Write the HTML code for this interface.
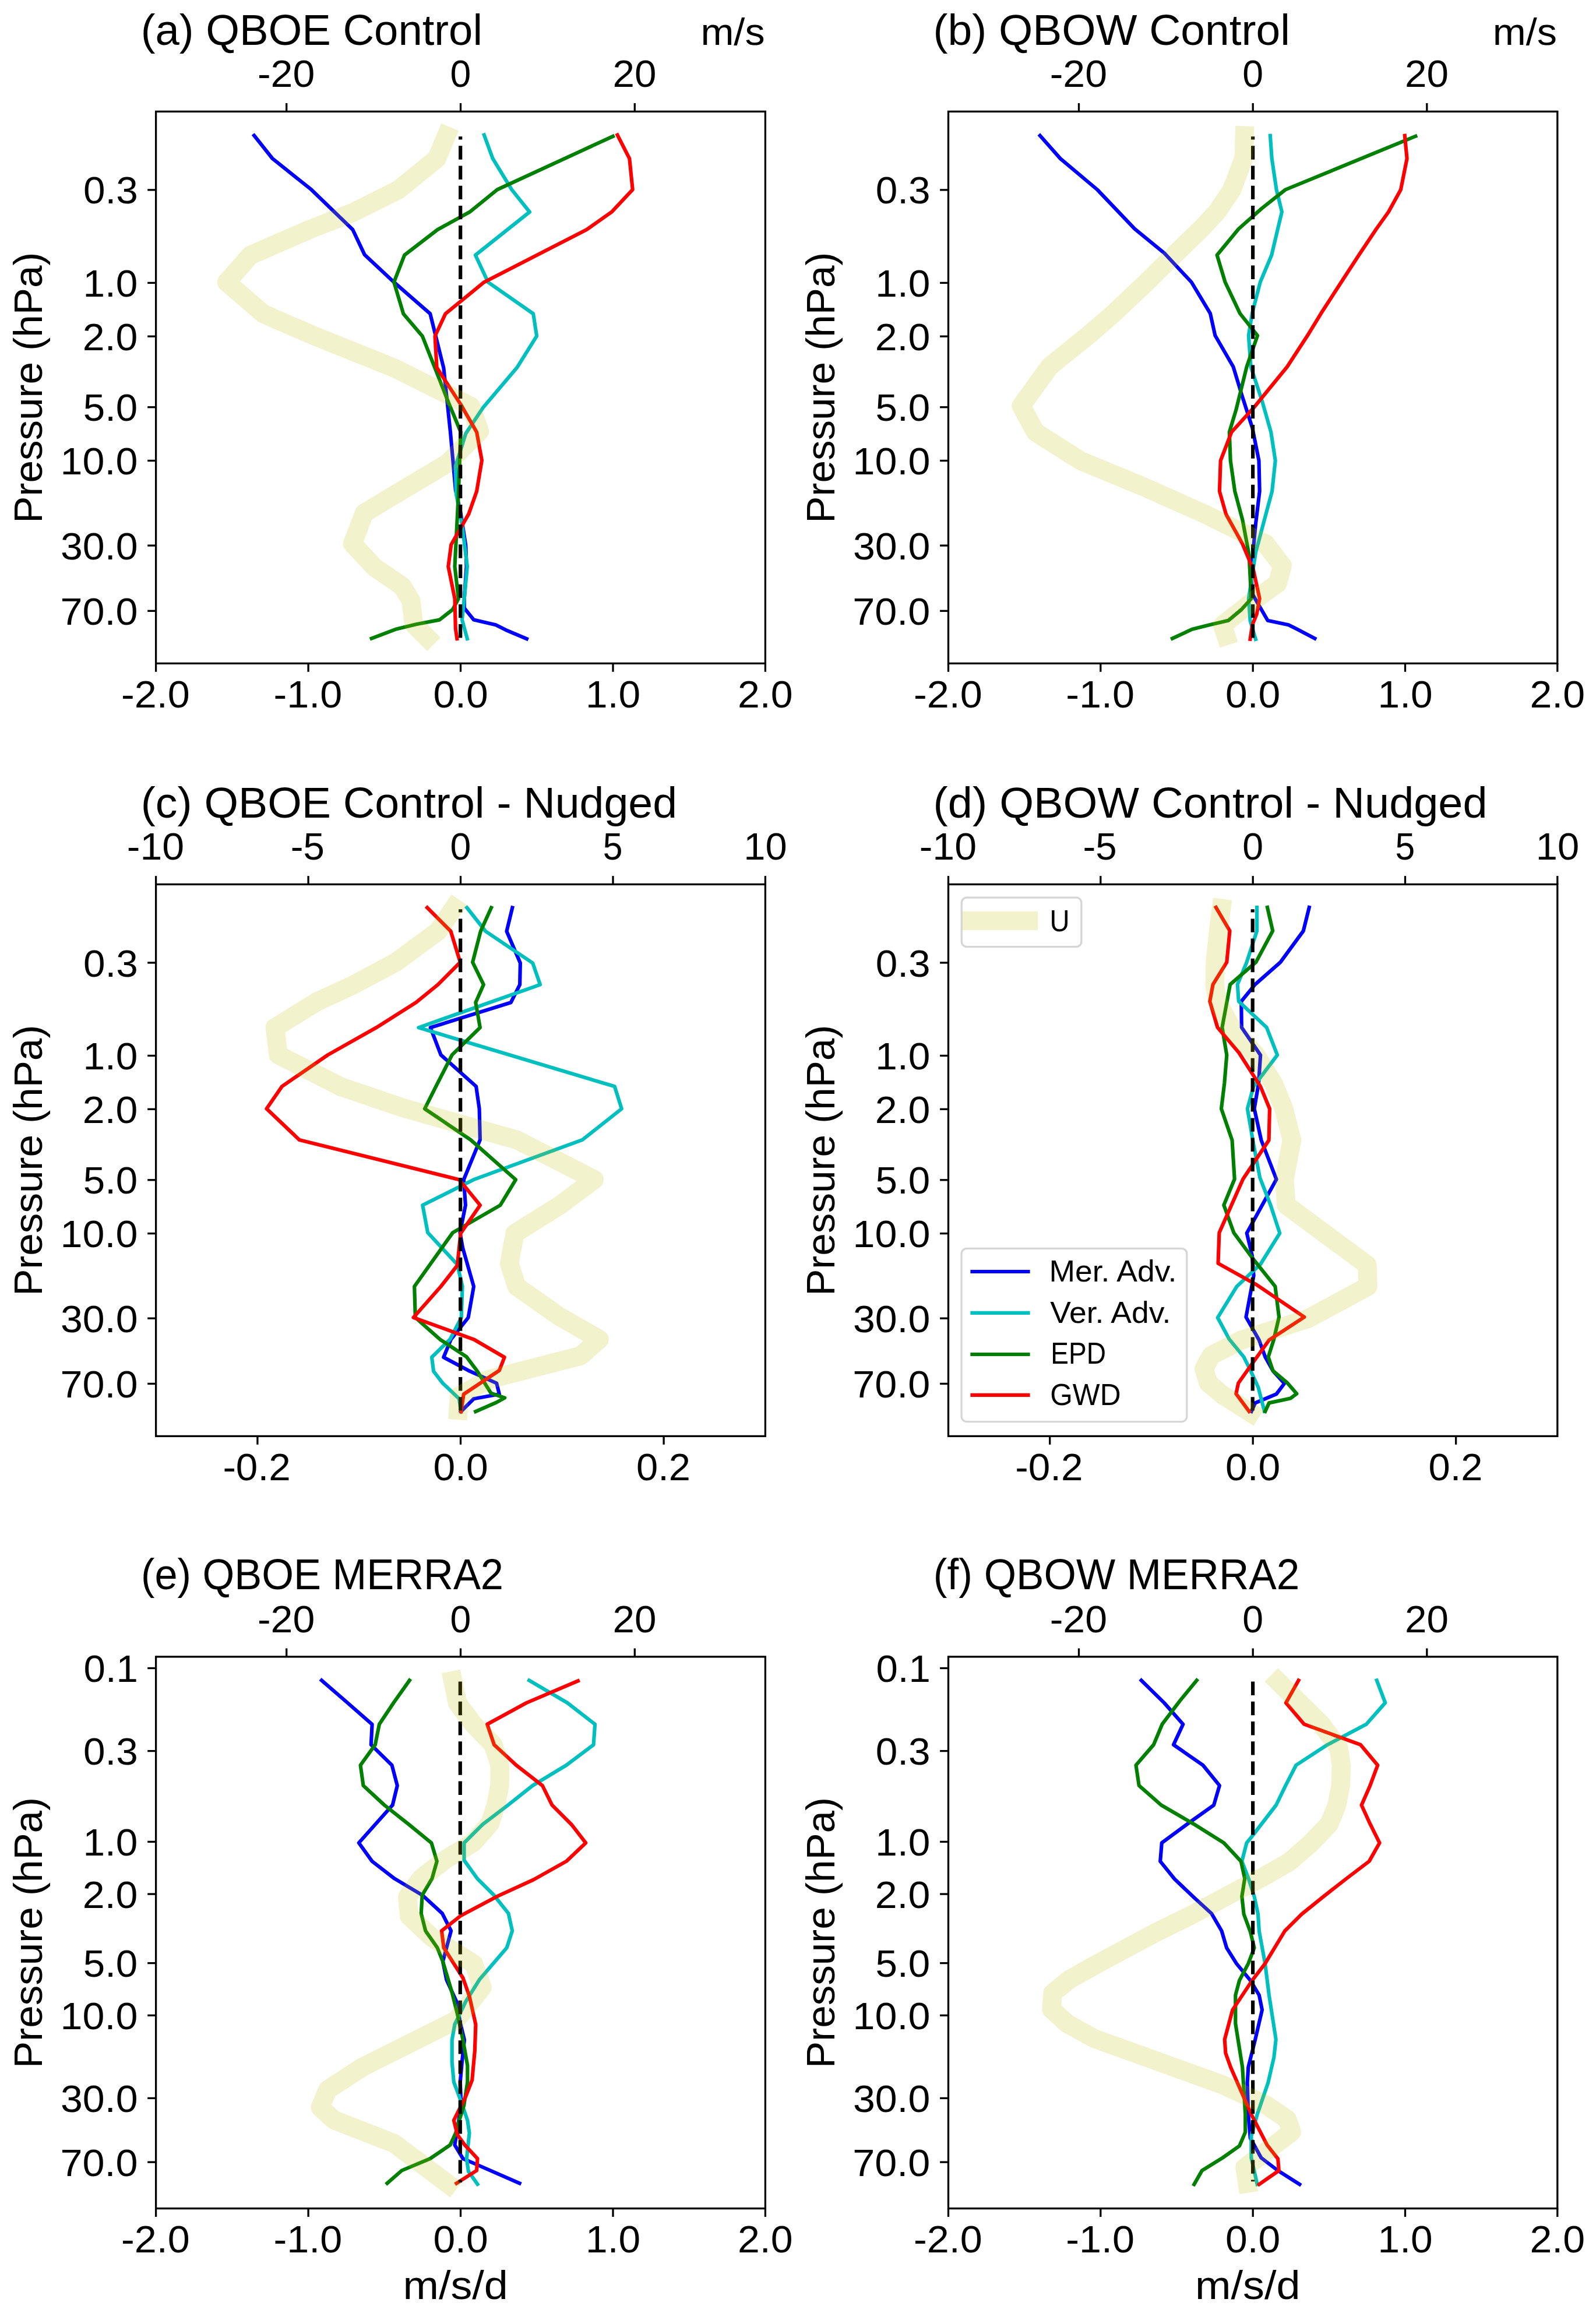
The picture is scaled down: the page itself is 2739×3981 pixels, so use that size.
<!DOCTYPE html>
<html><head><meta charset="utf-8"><style>
html,body{margin:0;padding:0;background:#fff;}
svg{display:block;}
text{font-family:"Liberation Sans",sans-serif;fill:#000;}
</style></head><body>
<svg width="2739" height="3981" viewBox="0 0 2739 3981">
<rect x="0" y="0" width="2739" height="3981" fill="#fff"/>
<text x="241.8" y="76.5" font-size="73.45" textLength="586.1" lengthAdjust="spacingAndGlyphs">(a) QBOE Control</text>
<text x="1202.4" y="76.5" font-size="64.84" textLength="110.2" lengthAdjust="spacingAndGlyphs">m/s</text>
<text transform="translate(72.4,664.9) rotate(-90)" x="-232.8" y="0" font-size="69.17" textLength="465.1" lengthAdjust="spacingAndGlyphs">Pressure (hPa)</text>
<line x1="267.6" y1="1138.4" x2="267.6" y2="1152.8" stroke="#000" stroke-width="3.3" stroke-linecap="butt"/>
<text x="208.1" y="1214.2" font-size="64.84" textLength="117.7" lengthAdjust="spacingAndGlyphs">-2.0</text>
<line x1="529.1" y1="1138.4" x2="529.1" y2="1152.8" stroke="#000" stroke-width="3.3" stroke-linecap="butt"/>
<text x="469.5" y="1214.2" font-size="64.84" textLength="117.7" lengthAdjust="spacingAndGlyphs">-1.0</text>
<line x1="790.5" y1="1138.4" x2="790.5" y2="1152.8" stroke="#000" stroke-width="3.3" stroke-linecap="butt"/>
<text x="743.4" y="1214.2" font-size="64.84" textLength="94.3" lengthAdjust="spacingAndGlyphs">0.0</text>
<line x1="1052.0" y1="1138.4" x2="1052.0" y2="1152.8" stroke="#000" stroke-width="3.3" stroke-linecap="butt"/>
<text x="1005.1" y="1214.2" font-size="64.84" textLength="94.0" lengthAdjust="spacingAndGlyphs">1.0</text>
<line x1="1313.4" y1="1138.4" x2="1313.4" y2="1152.8" stroke="#000" stroke-width="3.3" stroke-linecap="butt"/>
<text x="1266.0" y="1214.2" font-size="64.84" textLength="94.6" lengthAdjust="spacingAndGlyphs">2.0</text>
<line x1="491.7" y1="191.4" x2="491.7" y2="177.0" stroke="#000" stroke-width="3.3" stroke-linecap="butt"/>
<text x="441.9" y="149.0" font-size="64.84" textLength="98.4" lengthAdjust="spacingAndGlyphs">-20</text>
<line x1="790.5" y1="191.4" x2="790.5" y2="177.0" stroke="#000" stroke-width="3.3" stroke-linecap="butt"/>
<text x="772.6" y="149.0" font-size="64.84" textLength="35.8" lengthAdjust="spacingAndGlyphs">0</text>
<line x1="1089.3" y1="191.4" x2="1089.3" y2="177.0" stroke="#000" stroke-width="3.3" stroke-linecap="butt"/>
<text x="1051.6" y="149.0" font-size="64.84" textLength="75.0" lengthAdjust="spacingAndGlyphs">20</text>
<line x1="253.2" y1="325.9" x2="267.6" y2="325.9" stroke="#000" stroke-width="3.3" stroke-linecap="butt"/>
<text x="142.9" y="349.4" font-size="64.84" textLength="93.8" lengthAdjust="spacingAndGlyphs">0.3</text>
<line x1="253.2" y1="485.4" x2="267.6" y2="485.4" stroke="#000" stroke-width="3.3" stroke-linecap="butt"/>
<text x="142.4" y="508.9" font-size="64.84" textLength="94.0" lengthAdjust="spacingAndGlyphs">1.0</text>
<line x1="253.2" y1="577.2" x2="267.6" y2="577.2" stroke="#000" stroke-width="3.3" stroke-linecap="butt"/>
<text x="141.8" y="600.7" font-size="64.84" textLength="94.6" lengthAdjust="spacingAndGlyphs">2.0</text>
<line x1="253.2" y1="698.7" x2="267.6" y2="698.7" stroke="#000" stroke-width="3.3" stroke-linecap="butt"/>
<text x="142.7" y="722.2" font-size="64.84" textLength="93.6" lengthAdjust="spacingAndGlyphs">5.0</text>
<line x1="253.2" y1="790.5" x2="267.6" y2="790.5" stroke="#000" stroke-width="3.3" stroke-linecap="butt"/>
<text x="103.6" y="814.0" font-size="64.84" textLength="132.9" lengthAdjust="spacingAndGlyphs">10.0</text>
<line x1="253.2" y1="936.1" x2="267.6" y2="936.1" stroke="#000" stroke-width="3.3" stroke-linecap="butt"/>
<text x="104.0" y="959.6" font-size="64.84" textLength="132.5" lengthAdjust="spacingAndGlyphs">30.0</text>
<line x1="253.2" y1="1048.3" x2="267.6" y2="1048.3" stroke="#000" stroke-width="3.3" stroke-linecap="butt"/>
<text x="103.4" y="1071.8" font-size="64.84" textLength="133.1" lengthAdjust="spacingAndGlyphs">70.0</text>
<svg x="267.6" y="191.4" width="1045.8000000000002" height="947.0000000000001" viewBox="267.6 191.4 1045.8000000000002 947.0000000000001" overflow="hidden">
<polyline points="436.1,232.5 467.7,272.2 534.4,325.4 605.3,394.0 625.6,436.9 676.1,484.2 738.3,538.4 761.4,631.6 773.0,742.0 781.8,840.5 790.6,880.6 799.3,935.7 800.6,972.0 796.8,1027.0 796.8,1043.5 813.1,1063.6 850.7,1072.3 868.3,1081.1 903.9,1096.1" fill="none" stroke="#0000ff" stroke-width="6.2" stroke-linejoin="round" stroke-linecap="square" />
<polyline points="830.8,231.6 845.7,272.2 878.2,325.4 908.9,363.8 815.9,437.8 837.6,484.2 915.2,538.4 921.1,576.7 887.2,630.8 829.4,698.9 799.3,744.0 781.8,800.0 783.0,848.0 793.0,900.6 801.9,972.0 796.8,1027.0 793.0,1063.6 801.9,1096.0" fill="none" stroke="#00bfbf" stroke-width="6.2" stroke-linejoin="round" stroke-linecap="square" />
<polyline points="1051.9,233.9 853.4,325.4 806.0,363.8 751.0,394.0 694.1,437.8 676.1,484.2 692.3,538.4 724.8,576.7 770.5,692.6 790.6,741.0 786.8,848.0 780.5,972.0 786.8,1027.2 776.8,1046.0 754.2,1063.6 715.4,1071.0 679.0,1079.8 637.7,1095.6" fill="none" stroke="#008000" stroke-width="6.2" stroke-linejoin="round" stroke-linecap="square" />
<polyline points="1059.6,231.6 1080.3,272.2 1085.7,325.4 1049.6,363.8 1006.8,394.0 830.8,484.2 764.5,538.4 746.5,576.7 749.6,630.8 790.6,693.9 818.1,741.5 826.9,789.9 818.1,843.0 804.4,881.9 774.3,934.5 769.3,972.1 780.5,1027.2 781.8,1078.6 784.3,1096.0" fill="none" stroke="#ff0000" stroke-width="6.2" stroke-linejoin="round" stroke-linecap="square" />
<line x1="790.2" y1="1094.5" x2="790.2" y2="234.2" stroke="#000" stroke-width="6.2" stroke-dasharray="23.4 10.8"/>
<polyline points="766.0,233.0 749.6,272.2 684.2,325.4 607.5,363.8 530.8,394.0 429.8,438.0 389.0,484.2 451.9,538.4 540.0,576.7 675.2,630.8 808.0,697.0 823.0,740.0 768.0,795.0 679.0,848.0 625.0,880.6 605.0,933.0 642.7,973.3 690.3,1006.0 705.4,1031.0 710.0,1071.0 733.0,1094.0" fill="none" stroke="#bfbf00" stroke-width="32.5" stroke-linejoin="round" stroke-linecap="square" stroke-opacity="0.2"/>
</svg>
<rect x="267.6" y="191.4" width="1045.8000000000002" height="947.0000000000001" fill="none" stroke="#000" stroke-width="3.3"/>
<text x="1601.6" y="76.5" font-size="73.45" textLength="612.3" lengthAdjust="spacingAndGlyphs">(b) QBOW Control</text>
<text x="2561.8" y="76.5" font-size="64.84" textLength="110.2" lengthAdjust="spacingAndGlyphs">m/s</text>
<text transform="translate(1432.3,664.9) rotate(-90)" x="-232.8" y="0" font-size="69.17" textLength="465.1" lengthAdjust="spacingAndGlyphs">Pressure (hPa)</text>
<line x1="1627.5" y1="1138.4" x2="1627.5" y2="1152.8" stroke="#000" stroke-width="3.3" stroke-linecap="butt"/>
<text x="1568.0" y="1214.2" font-size="64.84" textLength="117.7" lengthAdjust="spacingAndGlyphs">-2.0</text>
<line x1="1888.8" y1="1138.4" x2="1888.8" y2="1152.8" stroke="#000" stroke-width="3.3" stroke-linecap="butt"/>
<text x="1829.3" y="1214.2" font-size="64.84" textLength="117.7" lengthAdjust="spacingAndGlyphs">-1.0</text>
<line x1="2150.2" y1="1138.4" x2="2150.2" y2="1152.8" stroke="#000" stroke-width="3.3" stroke-linecap="butt"/>
<text x="2103.0" y="1214.2" font-size="64.84" textLength="94.3" lengthAdjust="spacingAndGlyphs">0.0</text>
<line x1="2411.5" y1="1138.4" x2="2411.5" y2="1152.8" stroke="#000" stroke-width="3.3" stroke-linecap="butt"/>
<text x="2364.6" y="1214.2" font-size="64.84" textLength="94.0" lengthAdjust="spacingAndGlyphs">1.0</text>
<line x1="2672.8" y1="1138.4" x2="2672.8" y2="1152.8" stroke="#000" stroke-width="3.3" stroke-linecap="butt"/>
<text x="2625.4" y="1214.2" font-size="64.84" textLength="94.6" lengthAdjust="spacingAndGlyphs">2.0</text>
<line x1="1851.5" y1="191.4" x2="1851.5" y2="177.0" stroke="#000" stroke-width="3.3" stroke-linecap="butt"/>
<text x="1801.7" y="149.0" font-size="64.84" textLength="98.4" lengthAdjust="spacingAndGlyphs">-20</text>
<line x1="2150.2" y1="191.4" x2="2150.2" y2="177.0" stroke="#000" stroke-width="3.3" stroke-linecap="butt"/>
<text x="2132.3" y="149.0" font-size="64.84" textLength="35.8" lengthAdjust="spacingAndGlyphs">0</text>
<line x1="2448.8" y1="191.4" x2="2448.8" y2="177.0" stroke="#000" stroke-width="3.3" stroke-linecap="butt"/>
<text x="2411.1" y="149.0" font-size="64.84" textLength="75.0" lengthAdjust="spacingAndGlyphs">20</text>
<line x1="1613.1" y1="325.9" x2="1627.5" y2="325.9" stroke="#000" stroke-width="3.3" stroke-linecap="butt"/>
<text x="1502.8" y="349.4" font-size="64.84" textLength="93.8" lengthAdjust="spacingAndGlyphs">0.3</text>
<line x1="1613.1" y1="485.4" x2="1627.5" y2="485.4" stroke="#000" stroke-width="3.3" stroke-linecap="butt"/>
<text x="1502.3" y="508.9" font-size="64.84" textLength="94.0" lengthAdjust="spacingAndGlyphs">1.0</text>
<line x1="1613.1" y1="577.2" x2="1627.5" y2="577.2" stroke="#000" stroke-width="3.3" stroke-linecap="butt"/>
<text x="1501.7" y="600.7" font-size="64.84" textLength="94.6" lengthAdjust="spacingAndGlyphs">2.0</text>
<line x1="1613.1" y1="698.7" x2="1627.5" y2="698.7" stroke="#000" stroke-width="3.3" stroke-linecap="butt"/>
<text x="1502.6" y="722.2" font-size="64.84" textLength="93.6" lengthAdjust="spacingAndGlyphs">5.0</text>
<line x1="1613.1" y1="790.5" x2="1627.5" y2="790.5" stroke="#000" stroke-width="3.3" stroke-linecap="butt"/>
<text x="1463.5" y="814.0" font-size="64.84" textLength="132.9" lengthAdjust="spacingAndGlyphs">10.0</text>
<line x1="1613.1" y1="936.1" x2="1627.5" y2="936.1" stroke="#000" stroke-width="3.3" stroke-linecap="butt"/>
<text x="1463.9" y="959.6" font-size="64.84" textLength="132.5" lengthAdjust="spacingAndGlyphs">30.0</text>
<line x1="1613.1" y1="1048.3" x2="1627.5" y2="1048.3" stroke="#000" stroke-width="3.3" stroke-linecap="butt"/>
<text x="1463.3" y="1071.8" font-size="64.84" textLength="133.1" lengthAdjust="spacingAndGlyphs">70.0</text>
<svg x="1627.5" y="191.4" width="1045.3000000000002" height="947.0000000000001" viewBox="1627.5 191.4 1045.3000000000002 947.0000000000001" overflow="hidden">
<polyline points="1784.9,232.7 1819.7,272.1 1883.2,325.5 1947.2,392.7 1998.2,434.4 2044.6,484.0 2077.0,537.8 2085.4,575.8 2116.4,629.2 2132.3,681.4 2149.2,734.0 2160.5,790.4 2161.7,843.0 2154.9,899.4 2149.2,959.5 2147.4,1015.9 2175.6,1064.8 2211.3,1072.3 2226.3,1079.8 2256.4,1095.6" fill="none" stroke="#0000ff" stroke-width="6.2" stroke-linejoin="round" stroke-linecap="square" />
<polyline points="2179.9,232.7 2182.7,272.1 2190.6,325.5 2199.9,363.5 2192.9,392.7 2182.3,437.7 2162.8,484.0 2148.9,537.8 2142.8,575.8 2146.6,629.2 2166.2,688.9 2181.2,741.5 2188.7,790.4 2183.1,843.0 2169.9,891.9 2154.9,948.3 2142.9,1027.2 2145.5,1064.8 2154.9,1096.8" fill="none" stroke="#00bfbf" stroke-width="6.2" stroke-linejoin="round" stroke-linecap="square" />
<polyline points="2429.4,233.7 2205.9,325.5 2165.1,357.9 2125.7,392.7 2088.6,437.7 2102.5,484.0 2128.0,537.8 2158.1,575.8 2139.6,629.2 2121.1,703.9 2109.8,741.5 2111.7,790.4 2119.2,843.0 2132.3,891.9 2143.6,952.0 2147.4,1027.2 2130.5,1046.0 2107.9,1064.8 2075.9,1072.3 2045.9,1079.8 2012.0,1095.6" fill="none" stroke="#008000" stroke-width="6.2" stroke-linejoin="round" stroke-linecap="square" />
<polyline points="2410.8,232.7 2414.6,272.1 2403.9,325.5 2383.0,363.5 2362.1,392.7 2332.0,437.7 2301.9,484.0 2267.1,537.8 2243.9,575.8 2209.1,629.2 2151.1,700.2 2113.5,741.5 2094.7,790.4 2092.9,843.0 2104.1,882.5 2132.3,933.2 2151.1,978.3 2161.7,1027.2 2156.8,1053.5 2149.2,1072.3 2145.5,1096.8" fill="none" stroke="#ff0000" stroke-width="6.2" stroke-linejoin="round" stroke-linecap="square" />
<line x1="2150.1" y1="1094.5" x2="2150.1" y2="234.2" stroke="#000" stroke-width="6.2" stroke-dasharray="23.4 10.8"/>
<polyline points="2135.9,232.7 2135.0,269.8 2114.1,325.5 2088.6,363.5 2062.0,392.0 2015.0,437.7 1968.0,484.0 1911.0,538.0 1867.0,575.8 1801.1,629.2 1752.6,696.4 1777.1,741.5 1854.1,790.4 1963.2,835.5 2068.4,882.5 2171.8,933.2 2200.7,970.8 2192.5,1000.9 2151.1,1031.0 2098.0,1072.8 2104.0,1091.0" fill="none" stroke="#bfbf00" stroke-width="32.5" stroke-linejoin="round" stroke-linecap="square" stroke-opacity="0.2"/>
</svg>
<rect x="1627.5" y="191.4" width="1045.3000000000002" height="947.0000000000001" fill="none" stroke="#000" stroke-width="3.3"/>
<text x="241.7" y="1402.6" font-size="73.45" textLength="920.4" lengthAdjust="spacingAndGlyphs">(c) QBOE Control - Nudged</text>
<text transform="translate(72.4,1991.0) rotate(-90)" x="-232.8" y="0" font-size="69.17" textLength="465.1" lengthAdjust="spacingAndGlyphs">Pressure (hPa)</text>
<line x1="441.9" y1="2464.4" x2="441.9" y2="2478.8" stroke="#000" stroke-width="3.3" stroke-linecap="butt"/>
<text x="382.4" y="2540.2" font-size="64.84" textLength="116.3" lengthAdjust="spacingAndGlyphs">-0.2</text>
<line x1="790.5" y1="2464.4" x2="790.5" y2="2478.8" stroke="#000" stroke-width="3.3" stroke-linecap="butt"/>
<text x="743.4" y="2540.2" font-size="64.84" textLength="94.3" lengthAdjust="spacingAndGlyphs">0.0</text>
<line x1="1139.1" y1="2464.4" x2="1139.1" y2="2478.8" stroke="#000" stroke-width="3.3" stroke-linecap="butt"/>
<text x="1092.0" y="2540.2" font-size="64.84" textLength="92.9" lengthAdjust="spacingAndGlyphs">0.2</text>
<line x1="267.6" y1="1517.5" x2="267.6" y2="1503.1" stroke="#000" stroke-width="3.3" stroke-linecap="butt"/>
<text x="217.8" y="1475.1" font-size="64.84" textLength="98.4" lengthAdjust="spacingAndGlyphs">-10</text>
<line x1="529.1" y1="1517.5" x2="529.1" y2="1503.1" stroke="#000" stroke-width="3.3" stroke-linecap="butt"/>
<text x="498.7" y="1475.1" font-size="64.84" textLength="58.1" lengthAdjust="spacingAndGlyphs">-5</text>
<line x1="790.5" y1="1517.5" x2="790.5" y2="1503.1" stroke="#000" stroke-width="3.3" stroke-linecap="butt"/>
<text x="772.6" y="1475.1" font-size="64.84" textLength="35.8" lengthAdjust="spacingAndGlyphs">0</text>
<line x1="1052.0" y1="1517.5" x2="1052.0" y2="1503.1" stroke="#000" stroke-width="3.3" stroke-linecap="butt"/>
<text x="1034.8" y="1475.1" font-size="64.84" textLength="33.7" lengthAdjust="spacingAndGlyphs">5</text>
<line x1="1313.4" y1="1517.5" x2="1313.4" y2="1503.1" stroke="#000" stroke-width="3.3" stroke-linecap="butt"/>
<text x="1276.3" y="1475.1" font-size="64.84" textLength="74.4" lengthAdjust="spacingAndGlyphs">10</text>
<line x1="253.2" y1="1652.0" x2="267.6" y2="1652.0" stroke="#000" stroke-width="3.3" stroke-linecap="butt"/>
<text x="142.9" y="1675.5" font-size="64.84" textLength="93.8" lengthAdjust="spacingAndGlyphs">0.3</text>
<line x1="253.2" y1="1811.5" x2="267.6" y2="1811.5" stroke="#000" stroke-width="3.3" stroke-linecap="butt"/>
<text x="142.4" y="1835.0" font-size="64.84" textLength="94.0" lengthAdjust="spacingAndGlyphs">1.0</text>
<line x1="253.2" y1="1903.3" x2="267.6" y2="1903.3" stroke="#000" stroke-width="3.3" stroke-linecap="butt"/>
<text x="141.8" y="1926.8" font-size="64.84" textLength="94.6" lengthAdjust="spacingAndGlyphs">2.0</text>
<line x1="253.2" y1="2024.8" x2="267.6" y2="2024.8" stroke="#000" stroke-width="3.3" stroke-linecap="butt"/>
<text x="142.7" y="2048.3" font-size="64.84" textLength="93.6" lengthAdjust="spacingAndGlyphs">5.0</text>
<line x1="253.2" y1="2116.6" x2="267.6" y2="2116.6" stroke="#000" stroke-width="3.3" stroke-linecap="butt"/>
<text x="103.6" y="2140.1" font-size="64.84" textLength="132.9" lengthAdjust="spacingAndGlyphs">10.0</text>
<line x1="253.2" y1="2262.2" x2="267.6" y2="2262.2" stroke="#000" stroke-width="3.3" stroke-linecap="butt"/>
<text x="104.0" y="2285.7" font-size="64.84" textLength="132.5" lengthAdjust="spacingAndGlyphs">30.0</text>
<line x1="253.2" y1="2374.4" x2="267.6" y2="2374.4" stroke="#000" stroke-width="3.3" stroke-linecap="butt"/>
<text x="103.4" y="2397.9" font-size="64.84" textLength="133.1" lengthAdjust="spacingAndGlyphs">70.0</text>
<svg x="267.6" y="1517.5" width="1045.8000000000002" height="946.9000000000001" viewBox="267.6 1517.5 1045.8000000000002 946.9000000000001" overflow="hidden">
<polyline points="879.3,1557.5 869.5,1598.0 892.9,1652.5 892.1,1689.6 876.8,1720.2 738.7,1763.3 756.6,1810.1 817.1,1864.3 822.6,1902.6 823.9,1955.9 795.8,2024.2 798.9,2068.1 789.5,2115.1 794.2,2141.7 813.0,2207.5 803.6,2260.8 773.9,2298.3 761.3,2329.0 803.6,2351.6 852.2,2373.5 856.9,2392.3 813.0,2400.2 791.1,2422.1" fill="none" stroke="#0000ff" stroke-width="6.2" stroke-linejoin="round" stroke-linecap="square" />
<polyline points="801.3,1557.5 833.3,1598.0 914.2,1652.5 927.0,1689.6 718.3,1763.3 1054.8,1864.3 1066.8,1902.6 999.5,1955.9 813.0,2024.2 725.3,2068.1 734.1,2115.1 784.8,2169.9 793.6,2207.5 791.7,2260.8 772.3,2298.3 741.0,2329.0 744.1,2353.2 759.8,2373.5 788.0,2400.2 791.1,2422.1" fill="none" stroke="#00bfbf" stroke-width="6.2" stroke-linejoin="round" stroke-linecap="square" />
<polyline points="843.1,1557.5 824.8,1598.0 811.1,1651.2 829.9,1689.6 816.3,1720.2 823.9,1763.3 775.8,1810.1 748.1,1864.3 728.9,1902.6 807.7,1955.9 885.1,2024.2 858.5,2068.1 777.0,2115.1 711.2,2207.5 712.8,2260.8 755.1,2298.3 800.5,2328.1 819.3,2353.2 842.8,2390.8 866.3,2398.6 852.2,2406.4 816.2,2422.1" fill="none" stroke="#008000" stroke-width="6.2" stroke-linejoin="round" stroke-linecap="square" />
<polyline points="733.2,1557.5 773.6,1598.0 789.8,1651.2 751.5,1689.6 714.0,1720.2 645.8,1763.3 562.7,1810.1 483.9,1864.3 457.5,1902.6 513.7,1955.9 788.0,2024.2 824.0,2068.1 790.5,2116.6 784.8,2171.5 756.6,2207.5 709.6,2260.8 813.0,2298.3 865.7,2329.0 856.9,2351.6 795.8,2392.3 791.1,2422.1" fill="none" stroke="#ff0000" stroke-width="6.2" stroke-linejoin="round" stroke-linecap="square" />
<line x1="790.2" y1="2420.6" x2="790.2" y2="1560.3" stroke="#000" stroke-width="6.2" stroke-dasharray="23.4 10.8"/>
<polyline points="779.2,1557.5 752.0,1597.6 679.3,1651.2 605.5,1690.5 543.6,1719.0 472.0,1763.3 477.5,1810.1 584.0,1864.3 692.7,1901.3 886.6,1955.9 1020.0,2024.0 961.0,2068.0 883.5,2116.6 874.1,2168.3 886.7,2207.5 960.3,2259.2 1028.6,2298.3 996.3,2326.5 838.1,2367.3 788.0,2395.5 786.4,2419.9" fill="none" stroke="#bfbf00" stroke-width="32.5" stroke-linejoin="round" stroke-linecap="square" stroke-opacity="0.2"/>
</svg>
<rect x="267.6" y="1517.5" width="1045.8000000000002" height="946.9000000000001" fill="none" stroke="#000" stroke-width="3.3"/>
<text x="1601.6" y="1402.6" font-size="73.45" textLength="951.0" lengthAdjust="spacingAndGlyphs">(d) QBOW Control - Nudged</text>
<text transform="translate(1432.3,1991.0) rotate(-90)" x="-232.8" y="0" font-size="69.17" textLength="465.1" lengthAdjust="spacingAndGlyphs">Pressure (hPa)</text>
<line x1="1801.7" y1="2464.4" x2="1801.7" y2="2478.8" stroke="#000" stroke-width="3.3" stroke-linecap="butt"/>
<text x="1742.2" y="2540.2" font-size="64.84" textLength="116.3" lengthAdjust="spacingAndGlyphs">-0.2</text>
<line x1="2150.2" y1="2464.4" x2="2150.2" y2="2478.8" stroke="#000" stroke-width="3.3" stroke-linecap="butt"/>
<text x="2103.0" y="2540.2" font-size="64.84" textLength="94.3" lengthAdjust="spacingAndGlyphs">0.0</text>
<line x1="2498.6" y1="2464.4" x2="2498.6" y2="2478.8" stroke="#000" stroke-width="3.3" stroke-linecap="butt"/>
<text x="2451.5" y="2540.2" font-size="64.84" textLength="92.9" lengthAdjust="spacingAndGlyphs">0.2</text>
<line x1="1627.5" y1="1517.5" x2="1627.5" y2="1503.1" stroke="#000" stroke-width="3.3" stroke-linecap="butt"/>
<text x="1577.7" y="1475.1" font-size="64.84" textLength="98.4" lengthAdjust="spacingAndGlyphs">-10</text>
<line x1="1888.8" y1="1517.5" x2="1888.8" y2="1503.1" stroke="#000" stroke-width="3.3" stroke-linecap="butt"/>
<text x="1858.5" y="1475.1" font-size="64.84" textLength="58.1" lengthAdjust="spacingAndGlyphs">-5</text>
<line x1="2150.2" y1="1517.5" x2="2150.2" y2="1503.1" stroke="#000" stroke-width="3.3" stroke-linecap="butt"/>
<text x="2132.3" y="1475.1" font-size="64.84" textLength="35.8" lengthAdjust="spacingAndGlyphs">0</text>
<line x1="2411.5" y1="1517.5" x2="2411.5" y2="1503.1" stroke="#000" stroke-width="3.3" stroke-linecap="butt"/>
<text x="2394.4" y="1475.1" font-size="64.84" textLength="33.7" lengthAdjust="spacingAndGlyphs">5</text>
<line x1="2672.8" y1="1517.5" x2="2672.8" y2="1503.1" stroke="#000" stroke-width="3.3" stroke-linecap="butt"/>
<text x="2635.7" y="1475.1" font-size="64.84" textLength="74.4" lengthAdjust="spacingAndGlyphs">10</text>
<line x1="1613.1" y1="1652.0" x2="1627.5" y2="1652.0" stroke="#000" stroke-width="3.3" stroke-linecap="butt"/>
<text x="1502.8" y="1675.5" font-size="64.84" textLength="93.8" lengthAdjust="spacingAndGlyphs">0.3</text>
<line x1="1613.1" y1="1811.5" x2="1627.5" y2="1811.5" stroke="#000" stroke-width="3.3" stroke-linecap="butt"/>
<text x="1502.3" y="1835.0" font-size="64.84" textLength="94.0" lengthAdjust="spacingAndGlyphs">1.0</text>
<line x1="1613.1" y1="1903.3" x2="1627.5" y2="1903.3" stroke="#000" stroke-width="3.3" stroke-linecap="butt"/>
<text x="1501.7" y="1926.8" font-size="64.84" textLength="94.6" lengthAdjust="spacingAndGlyphs">2.0</text>
<line x1="1613.1" y1="2024.8" x2="1627.5" y2="2024.8" stroke="#000" stroke-width="3.3" stroke-linecap="butt"/>
<text x="1502.6" y="2048.3" font-size="64.84" textLength="93.6" lengthAdjust="spacingAndGlyphs">5.0</text>
<line x1="1613.1" y1="2116.6" x2="1627.5" y2="2116.6" stroke="#000" stroke-width="3.3" stroke-linecap="butt"/>
<text x="1463.5" y="2140.1" font-size="64.84" textLength="132.9" lengthAdjust="spacingAndGlyphs">10.0</text>
<line x1="1613.1" y1="2262.2" x2="1627.5" y2="2262.2" stroke="#000" stroke-width="3.3" stroke-linecap="butt"/>
<text x="1463.9" y="2285.7" font-size="64.84" textLength="132.5" lengthAdjust="spacingAndGlyphs">30.0</text>
<line x1="1613.1" y1="2374.4" x2="1627.5" y2="2374.4" stroke="#000" stroke-width="3.3" stroke-linecap="butt"/>
<text x="1463.3" y="2397.9" font-size="64.84" textLength="133.1" lengthAdjust="spacingAndGlyphs">70.0</text>
<svg x="1627.5" y="1517.5" width="1045.3000000000002" height="946.9000000000001" viewBox="1627.5 1517.5 1045.3000000000002 946.9000000000001" overflow="hidden">
<polyline points="2246.8,1557.0 2236.8,1597.3 2197.4,1651.2 2153.9,1689.4 2130.3,1718.3 2130.8,1763.0 2163.2,1810.4 2160.0,1859.1 2152.6,1902.5 2164.5,1956.5 2190.5,2023.7 2166.1,2067.9 2139.7,2116.1 2149.0,2154.7 2151.6,2189.0 2138.4,2260.0 2150.3,2281.0 2160.8,2299.5 2171.3,2328.4 2184.5,2352.1 2204.2,2374.0 2190.5,2392.1 2154.2,2407.4 2147.6,2421.8" fill="none" stroke="#0000ff" stroke-width="6.2" stroke-linejoin="round" stroke-linecap="square" />
<polyline points="2157.1,1557.0 2157.1,1597.3 2139.5,1651.2 2123.7,1689.4 2125.8,1718.3 2173.7,1763.0 2192.1,1810.4 2151.3,1864.4 2140.8,1902.5 2150.0,1956.5 2162.1,2020.5 2180.5,2067.9 2196.3,2116.1 2163.4,2169.0 2122.6,2207.4 2089.7,2261.0 2109.5,2297.9 2134.5,2328.4 2146.3,2352.1 2159.5,2381.0 2170.0,2421.8" fill="none" stroke="#00bfbf" stroke-width="6.2" stroke-linejoin="round" stroke-linecap="square" />
<polyline points="2175.0,1557.0 2184.2,1597.3 2155.3,1651.2 2111.1,1689.4 2097.4,1763.0 2105.3,1810.4 2101.3,1859.1 2096.0,1902.5 2114.5,1956.5 2118.7,2023.2 2100.3,2067.9 2117.4,2115.3 2150.3,2160.0 2188.4,2207.4 2195.0,2260.0 2185.8,2299.5 2176.6,2328.4 2184.5,2352.1 2209.5,2373.2 2225.3,2391.6 2214.7,2399.5 2177.9,2407.4 2171.3,2421.8" fill="none" stroke="#008000" stroke-width="6.2" stroke-linejoin="round" stroke-linecap="square" />
<polyline points="2086.8,1557.0 2110.5,1597.3 2105.3,1651.2 2081.6,1689.4 2076.3,1718.3 2089.5,1763.0 2126.3,1806.5 2163.2,1864.4 2178.9,1902.5 2177.6,1956.5 2133.2,2023.2 2113.4,2067.9 2092.4,2115.3 2090.5,2167.9 2156.8,2204.7 2238.4,2260.0 2177.9,2299.5 2151.6,2336.3 2125.3,2373.2 2121.3,2391.6 2143.7,2421.8" fill="none" stroke="#ff0000" stroke-width="6.2" stroke-linejoin="round" stroke-linecap="square" />
<line x1="2149.7" y1="2420.6" x2="2149.7" y2="1560.3" stroke="#000" stroke-width="6.2" stroke-dasharray="23.4 10.8"/>
<polyline points="2096.0,1558.8 2091.0,1597.3 2085.5,1651.2 2084.7,1689.4 2089.5,1718.3 2113.2,1763.0 2155.3,1810.4 2185.5,1859.1 2203.2,1902.5 2217.1,1956.5 2204.2,2023.7 2207.4,2067.9 2346.3,2170.5 2347.6,2207.4 2245.0,2262.6 2130.5,2299.5 2078.5,2326.0 2066.3,2348.9 2073.9,2373.3 2097.2,2392.9 2146.3,2424.0" fill="none" stroke="#bfbf00" stroke-width="32.5" stroke-linejoin="round" stroke-linecap="square" stroke-opacity="0.2"/>
</svg>
<rect x="1627.5" y="1517.5" width="1045.3000000000002" height="946.9000000000001" fill="none" stroke="#000" stroke-width="3.3"/>
<text x="242.0" y="2727.4" font-size="73.45" textLength="622.0" lengthAdjust="spacingAndGlyphs">(e) QBOE MERRA2</text>
<text x="691.4" y="3945.4" font-size="69.17" textLength="180.5" lengthAdjust="spacingAndGlyphs">m/s/d</text>
<text transform="translate(72.4,3316.2) rotate(-90)" x="-232.8" y="0" font-size="69.17" textLength="465.1" lengthAdjust="spacingAndGlyphs">Pressure (hPa)</text>
<line x1="267.6" y1="3789.6" x2="267.6" y2="3804.0" stroke="#000" stroke-width="3.3" stroke-linecap="butt"/>
<text x="208.1" y="3865.4" font-size="64.84" textLength="117.7" lengthAdjust="spacingAndGlyphs">-2.0</text>
<line x1="529.1" y1="3789.6" x2="529.1" y2="3804.0" stroke="#000" stroke-width="3.3" stroke-linecap="butt"/>
<text x="469.5" y="3865.4" font-size="64.84" textLength="117.7" lengthAdjust="spacingAndGlyphs">-1.0</text>
<line x1="790.5" y1="3789.6" x2="790.5" y2="3804.0" stroke="#000" stroke-width="3.3" stroke-linecap="butt"/>
<text x="743.4" y="3865.4" font-size="64.84" textLength="94.3" lengthAdjust="spacingAndGlyphs">0.0</text>
<line x1="1052.0" y1="3789.6" x2="1052.0" y2="3804.0" stroke="#000" stroke-width="3.3" stroke-linecap="butt"/>
<text x="1005.1" y="3865.4" font-size="64.84" textLength="94.0" lengthAdjust="spacingAndGlyphs">1.0</text>
<line x1="1313.4" y1="3789.6" x2="1313.4" y2="3804.0" stroke="#000" stroke-width="3.3" stroke-linecap="butt"/>
<text x="1266.0" y="3865.4" font-size="64.84" textLength="94.6" lengthAdjust="spacingAndGlyphs">2.0</text>
<line x1="491.7" y1="2842.9" x2="491.7" y2="2828.5" stroke="#000" stroke-width="3.3" stroke-linecap="butt"/>
<text x="441.9" y="2800.5" font-size="64.84" textLength="98.4" lengthAdjust="spacingAndGlyphs">-20</text>
<line x1="790.5" y1="2842.9" x2="790.5" y2="2828.5" stroke="#000" stroke-width="3.3" stroke-linecap="butt"/>
<text x="772.6" y="2800.5" font-size="64.84" textLength="35.8" lengthAdjust="spacingAndGlyphs">0</text>
<line x1="1089.3" y1="2842.9" x2="1089.3" y2="2828.5" stroke="#000" stroke-width="3.3" stroke-linecap="butt"/>
<text x="1051.6" y="2800.5" font-size="64.84" textLength="75.0" lengthAdjust="spacingAndGlyphs">20</text>
<line x1="253.2" y1="2862.5" x2="267.6" y2="2862.5" stroke="#000" stroke-width="3.3" stroke-linecap="butt"/>
<text x="143.6" y="2886.0" font-size="64.84" textLength="93.4" lengthAdjust="spacingAndGlyphs">0.1</text>
<line x1="253.2" y1="3004.6" x2="267.6" y2="3004.6" stroke="#000" stroke-width="3.3" stroke-linecap="butt"/>
<text x="142.9" y="3028.1" font-size="64.84" textLength="93.8" lengthAdjust="spacingAndGlyphs">0.3</text>
<line x1="253.2" y1="3160.4" x2="267.6" y2="3160.4" stroke="#000" stroke-width="3.3" stroke-linecap="butt"/>
<text x="142.4" y="3183.9" font-size="64.84" textLength="94.0" lengthAdjust="spacingAndGlyphs">1.0</text>
<line x1="253.2" y1="3250.1" x2="267.6" y2="3250.1" stroke="#000" stroke-width="3.3" stroke-linecap="butt"/>
<text x="141.8" y="3273.6" font-size="64.84" textLength="94.6" lengthAdjust="spacingAndGlyphs">2.0</text>
<line x1="253.2" y1="3368.6" x2="267.6" y2="3368.6" stroke="#000" stroke-width="3.3" stroke-linecap="butt"/>
<text x="142.7" y="3392.1" font-size="64.84" textLength="93.6" lengthAdjust="spacingAndGlyphs">5.0</text>
<line x1="253.2" y1="3458.3" x2="267.6" y2="3458.3" stroke="#000" stroke-width="3.3" stroke-linecap="butt"/>
<text x="103.6" y="3481.8" font-size="64.84" textLength="132.9" lengthAdjust="spacingAndGlyphs">10.0</text>
<line x1="253.2" y1="3600.4" x2="267.6" y2="3600.4" stroke="#000" stroke-width="3.3" stroke-linecap="butt"/>
<text x="104.0" y="3623.9" font-size="64.84" textLength="132.5" lengthAdjust="spacingAndGlyphs">30.0</text>
<line x1="253.2" y1="3710.1" x2="267.6" y2="3710.1" stroke="#000" stroke-width="3.3" stroke-linecap="butt"/>
<text x="103.4" y="3733.6" font-size="64.84" textLength="133.1" lengthAdjust="spacingAndGlyphs">70.0</text>
<svg x="267.6" y="2842.9" width="1045.8000000000002" height="946.6999999999998" viewBox="267.6 2842.9 1045.8000000000002 946.6999999999998" overflow="hidden">
<polyline points="551.9,2883.4 596.5,2922.0 638.6,2958.8 636.8,2993.9 672.6,3029.0 681.8,3064.0 673.7,3097.4 643.9,3130.7 615.8,3162.3 638.6,3193.9 677.2,3223.7 724.6,3251.8 759.0,3283.4 774.1,3313.2 760.0,3365.8 766.3,3397.1 783.5,3434.7 789.8,3470.7 797.0,3500.5 792.9,3538.1 789.8,3572.6 791.4,3613.3 780.4,3680.6 794.5,3704.1 816.4,3713.5 891.6,3746.4" fill="none" stroke="#0000ff" stroke-width="6.2" stroke-linejoin="round" stroke-linecap="square" />
<polyline points="908.1,2883.4 973.7,2922.0 1021.1,2958.8 1018.6,2993.9 971.9,3029.0 914.0,3064.0 871.9,3097.4 828.1,3130.7 796.5,3162.3 796.5,3192.1 819.3,3223.7 847.4,3251.8 872.6,3283.4 879.1,3313.2 869.7,3342.3 822.7,3397.1 799.2,3434.7 780.4,3473.9 775.7,3500.5 775.7,3538.1 778.8,3572.6 788.2,3597.6 802.3,3638.3 805.5,3660.3 800.8,3704.1 803.9,3726.0 819.5,3748.0" fill="none" stroke="#00bfbf" stroke-width="6.2" stroke-linejoin="round" stroke-linecap="square" />
<polyline points="702.8,2883.4 675.4,2922.0 650.9,2958.8 643.9,2993.9 618.6,3029.0 623.5,3064.0 659.6,3097.4 701.8,3130.7 740.4,3162.3 749.8,3193.9 741.4,3223.7 724.6,3251.8 722.8,3283.4 730.3,3313.2 750.6,3342.3 760.0,3365.8 775.7,3419.0 785.1,3456.6 794.5,3500.5 802.3,3544.4 802.3,3572.6 796.1,3613.3 788.2,3638.3 782.0,3660.3 772.6,3680.6 738.1,3704.1 689.5,3724.5 664.5,3746.4" fill="none" stroke="#008000" stroke-width="6.2" stroke-linejoin="round" stroke-linecap="square" />
<polyline points="991.9,2884.4 903.5,2922.0 836.1,2958.8 848.1,2993.9 886.0,3029.0 930.9,3064.0 947.4,3097.4 980.7,3130.7 1005.3,3162.3 971.9,3193.9 915.8,3225.4 854.4,3253.5 791.2,3286.9 757.9,3313.2 761.6,3342.3 794.5,3394.0 805.5,3425.3 816.4,3473.9 814.8,3519.3 810.2,3569.4 799.2,3597.6 778.8,3638.3 785.1,3663.4 797.6,3680.6 819.5,3704.1 818.0,3724.5 783.5,3746.4" fill="none" stroke="#ff0000" stroke-width="6.2" stroke-linejoin="round" stroke-linecap="square" />
<line x1="789.8" y1="2885.6" x2="789.8" y2="3744.9" stroke="#000" stroke-width="6.2" stroke-dasharray="23.4 10.8"/>
<polyline points="777.2,2884.0 784.9,2922.0 812.3,2958.8 846.3,2993.9 857.9,3029.0 857.6,3063.4 851.4,3096.0 841.2,3128.7 812.7,3161.4 765.7,3190.0 722.9,3222.6 699.2,3255.2 702.4,3287.9 741.2,3324.6 813.0,3370.0 827.6,3410.0 783.0,3466.5 623.0,3546.5 562.4,3585.8 549.5,3616.3 572.8,3637.5 676.0,3677.8 769.4,3748.0" fill="none" stroke="#bfbf00" stroke-width="32.5" stroke-linejoin="round" stroke-linecap="square" stroke-opacity="0.2"/>
</svg>
<rect x="267.6" y="2842.9" width="1045.8000000000002" height="946.6999999999998" fill="none" stroke="#000" stroke-width="3.3"/>
<text x="1601.8" y="2727.4" font-size="73.45" textLength="628.6" lengthAdjust="spacingAndGlyphs">(f) QBOW MERRA2</text>
<text x="2051.0" y="3945.4" font-size="69.17" textLength="180.5" lengthAdjust="spacingAndGlyphs">m/s/d</text>
<text transform="translate(1432.3,3316.2) rotate(-90)" x="-232.8" y="0" font-size="69.17" textLength="465.1" lengthAdjust="spacingAndGlyphs">Pressure (hPa)</text>
<line x1="1627.5" y1="3789.6" x2="1627.5" y2="3804.0" stroke="#000" stroke-width="3.3" stroke-linecap="butt"/>
<text x="1568.0" y="3865.4" font-size="64.84" textLength="117.7" lengthAdjust="spacingAndGlyphs">-2.0</text>
<line x1="1888.8" y1="3789.6" x2="1888.8" y2="3804.0" stroke="#000" stroke-width="3.3" stroke-linecap="butt"/>
<text x="1829.3" y="3865.4" font-size="64.84" textLength="117.7" lengthAdjust="spacingAndGlyphs">-1.0</text>
<line x1="2150.2" y1="3789.6" x2="2150.2" y2="3804.0" stroke="#000" stroke-width="3.3" stroke-linecap="butt"/>
<text x="2103.0" y="3865.4" font-size="64.84" textLength="94.3" lengthAdjust="spacingAndGlyphs">0.0</text>
<line x1="2411.5" y1="3789.6" x2="2411.5" y2="3804.0" stroke="#000" stroke-width="3.3" stroke-linecap="butt"/>
<text x="2364.6" y="3865.4" font-size="64.84" textLength="94.0" lengthAdjust="spacingAndGlyphs">1.0</text>
<line x1="2672.8" y1="3789.6" x2="2672.8" y2="3804.0" stroke="#000" stroke-width="3.3" stroke-linecap="butt"/>
<text x="2625.4" y="3865.4" font-size="64.84" textLength="94.6" lengthAdjust="spacingAndGlyphs">2.0</text>
<line x1="1851.5" y1="2842.9" x2="1851.5" y2="2828.5" stroke="#000" stroke-width="3.3" stroke-linecap="butt"/>
<text x="1801.7" y="2800.5" font-size="64.84" textLength="98.4" lengthAdjust="spacingAndGlyphs">-20</text>
<line x1="2150.2" y1="2842.9" x2="2150.2" y2="2828.5" stroke="#000" stroke-width="3.3" stroke-linecap="butt"/>
<text x="2132.3" y="2800.5" font-size="64.84" textLength="35.8" lengthAdjust="spacingAndGlyphs">0</text>
<line x1="2448.8" y1="2842.9" x2="2448.8" y2="2828.5" stroke="#000" stroke-width="3.3" stroke-linecap="butt"/>
<text x="2411.1" y="2800.5" font-size="64.84" textLength="75.0" lengthAdjust="spacingAndGlyphs">20</text>
<line x1="1613.1" y1="2862.5" x2="1627.5" y2="2862.5" stroke="#000" stroke-width="3.3" stroke-linecap="butt"/>
<text x="1503.5" y="2886.0" font-size="64.84" textLength="93.4" lengthAdjust="spacingAndGlyphs">0.1</text>
<line x1="1613.1" y1="3004.6" x2="1627.5" y2="3004.6" stroke="#000" stroke-width="3.3" stroke-linecap="butt"/>
<text x="1502.8" y="3028.1" font-size="64.84" textLength="93.8" lengthAdjust="spacingAndGlyphs">0.3</text>
<line x1="1613.1" y1="3160.4" x2="1627.5" y2="3160.4" stroke="#000" stroke-width="3.3" stroke-linecap="butt"/>
<text x="1502.3" y="3183.9" font-size="64.84" textLength="94.0" lengthAdjust="spacingAndGlyphs">1.0</text>
<line x1="1613.1" y1="3250.1" x2="1627.5" y2="3250.1" stroke="#000" stroke-width="3.3" stroke-linecap="butt"/>
<text x="1501.7" y="3273.6" font-size="64.84" textLength="94.6" lengthAdjust="spacingAndGlyphs">2.0</text>
<line x1="1613.1" y1="3368.6" x2="1627.5" y2="3368.6" stroke="#000" stroke-width="3.3" stroke-linecap="butt"/>
<text x="1502.6" y="3392.1" font-size="64.84" textLength="93.6" lengthAdjust="spacingAndGlyphs">5.0</text>
<line x1="1613.1" y1="3458.3" x2="1627.5" y2="3458.3" stroke="#000" stroke-width="3.3" stroke-linecap="butt"/>
<text x="1463.5" y="3481.8" font-size="64.84" textLength="132.9" lengthAdjust="spacingAndGlyphs">10.0</text>
<line x1="1613.1" y1="3600.4" x2="1627.5" y2="3600.4" stroke="#000" stroke-width="3.3" stroke-linecap="butt"/>
<text x="1463.9" y="3623.9" font-size="64.84" textLength="132.5" lengthAdjust="spacingAndGlyphs">30.0</text>
<line x1="1613.1" y1="3710.1" x2="1627.5" y2="3710.1" stroke="#000" stroke-width="3.3" stroke-linecap="butt"/>
<text x="1463.3" y="3733.6" font-size="64.84" textLength="133.1" lengthAdjust="spacingAndGlyphs">70.0</text>
<svg x="1627.5" y="2842.9" width="1045.3000000000002" height="946.6999999999998" viewBox="1627.5 2842.9 1045.3000000000002 946.6999999999998" overflow="hidden">
<polyline points="1958.7,2883.4 1997.8,2921.9 2030.3,2958.7 2014.0,2993.9 2064.5,3029.0 2092.9,3063.9 2083.1,3097.5 2040.1,3128.1 1993.8,3162.3 1991.2,3193.9 2015.7,3224.2 2049.9,3256.8 2079.2,3283.5 2096.6,3313.5 2105.1,3342.3 2122.0,3369.4 2145.7,3398.1 2160.9,3423.5 2166.0,3448.9 2154.2,3499.6 2142.3,3547.0 2140.6,3574.1 2142.3,3628.2 2145.7,3668.8 2164.3,3702.6 2193.1,3724.6 2230.3,3748.3" fill="none" stroke="#0000ff" stroke-width="6.2" stroke-linejoin="round" stroke-linecap="square" />
<polyline points="2362.7,2883.4 2377.3,2921.9 2344.8,2958.7 2278.0,2993.9 2224.2,3029.0 2206.3,3063.9 2190.0,3097.5 2147.6,3152.5 2139.5,3162.3 2131.3,3193.9 2142.7,3223.6 2152.5,3254.2 2159.0,3284.5 2160.9,3313.5 2171.1,3369.4 2177.9,3423.5 2189.7,3499.6 2186.3,3530.1 2176.2,3574.1 2157.6,3628.2 2147.4,3665.4 2147.4,3702.6 2157.6,3748.3" fill="none" stroke="#00bfbf" stroke-width="6.2" stroke-linejoin="round" stroke-linecap="square" />
<polyline points="2053.8,2883.4 2025.4,2917.9 1994.5,2958.7 1979.8,2993.9 1949.5,3029.0 1954.7,3063.9 1992.9,3097.5 2048.3,3129.7 2100.4,3162.3 2129.7,3193.9 2136.2,3223.6 2131.3,3254.2 2134.6,3284.5 2146.0,3315.5 2152.5,3342.3 2142.3,3369.4 2127.1,3398.1 2120.3,3423.5 2120.3,3472.6 2132.2,3547.0 2137.2,3628.2 2137.2,3658.6 2127.1,3682.3 2098.3,3702.6 2062.8,3724.6 2049.3,3748.3" fill="none" stroke="#008000" stroke-width="6.2" stroke-linejoin="round" stroke-linecap="square" />
<polyline points="2228.5,2883.4 2206.9,2921.9 2238.2,2958.7 2335.0,2993.9 2364.3,3029.0 2351.3,3063.9 2336.6,3097.5 2351.3,3129.7 2367.6,3162.3 2349.7,3193.9 2310.6,3223.6 2271.5,3254.2 2234.0,3284.5 2204.9,3313.5 2171.1,3369.4 2149.1,3398.1 2115.3,3448.9 2101.7,3499.6 2103.4,3523.3 2111.9,3547.0 2147.4,3628.2 2174.5,3680.6 2193.1,3704.3 2194.8,3724.6 2160.9,3748.3" fill="none" stroke="#ff0000" stroke-width="6.2" stroke-linejoin="round" stroke-linecap="square" />
<line x1="2150.1" y1="2885.6" x2="2150.1" y2="3743.2" stroke="#000" stroke-width="6.2" stroke-dasharray="23.4 10.8"/>
<polyline points="2193.3,2885.4 2267.5,2958.7 2297.5,2999.4 2301.8,3029.0 2300.8,3063.9 2294.3,3097.5 2281.2,3129.7 2250.3,3162.3 2212.8,3194.9 2167.2,3221.0 2108.5,3251.9 2045.0,3286.0 1984.5,3315.6 1882.3,3370.4 1835.4,3396.6 1806.6,3420.0 1804.5,3447.7 1831.0,3472.0 1878.0,3498.0 2098.3,3577.4 2172.8,3612.0 2208.9,3636.5 2216.7,3658.5 2136.5,3719.2 2140.6,3746.4" fill="none" stroke="#bfbf00" stroke-width="32.5" stroke-linejoin="round" stroke-linecap="square" stroke-opacity="0.2"/>
</svg>
<rect x="1627.5" y="2842.9" width="1045.3000000000002" height="946.6999999999998" fill="none" stroke="#000" stroke-width="3.3"/>
<rect x="1650.25" y="1540.15" width="205.6" height="84.5" rx="9" ry="9" fill="#fff" fill-opacity="0.8" stroke="#d6d6d6" stroke-width="3.3"/>
<line x1="1668" y1="1579.9" x2="1765" y2="1579.9" stroke="#bfbf00" stroke-opacity="0.2" stroke-width="32.5" stroke-linecap="square"/>
<text x="1801.6" y="1597.7" font-size="51.13" textLength="34.1" lengthAdjust="spacingAndGlyphs">U</text>
<rect x="1650.0500000000002" y="2142.35" width="386.8" height="297.2" rx="9" ry="9" fill="#fff" fill-opacity="0.8" stroke="#d6d6d6" stroke-width="3.3"/>
<line x1="1668.5" y1="2182" x2="1764.5" y2="2182" stroke="#0000ff" stroke-width="6.2" stroke-linecap="square"/>
<text x="1800.4" y="2199.4" font-size="51.13" textLength="219.1" lengthAdjust="spacingAndGlyphs">Mer. Adv.</text>
<line x1="1668.5" y1="2252.9" x2="1764.5" y2="2252.9" stroke="#00bfbf" stroke-width="6.2" stroke-linecap="square"/>
<text x="1802.2" y="2270.3" font-size="51.13" textLength="207.1" lengthAdjust="spacingAndGlyphs">Ver. Adv.</text>
<line x1="1668.5" y1="2324" x2="1764.5" y2="2324" stroke="#008000" stroke-width="6.2" stroke-linecap="square"/>
<text x="1803.3" y="2340.0" font-size="51.13" textLength="94.7" lengthAdjust="spacingAndGlyphs">EPD</text>
<line x1="1668.5" y1="2393.8" x2="1764.5" y2="2393.8" stroke="#ff0000" stroke-width="6.2" stroke-linecap="square"/>
<text x="1802.3" y="2410.9" font-size="51.13" textLength="121.2" lengthAdjust="spacingAndGlyphs">GWD</text>
</svg></body></html>
